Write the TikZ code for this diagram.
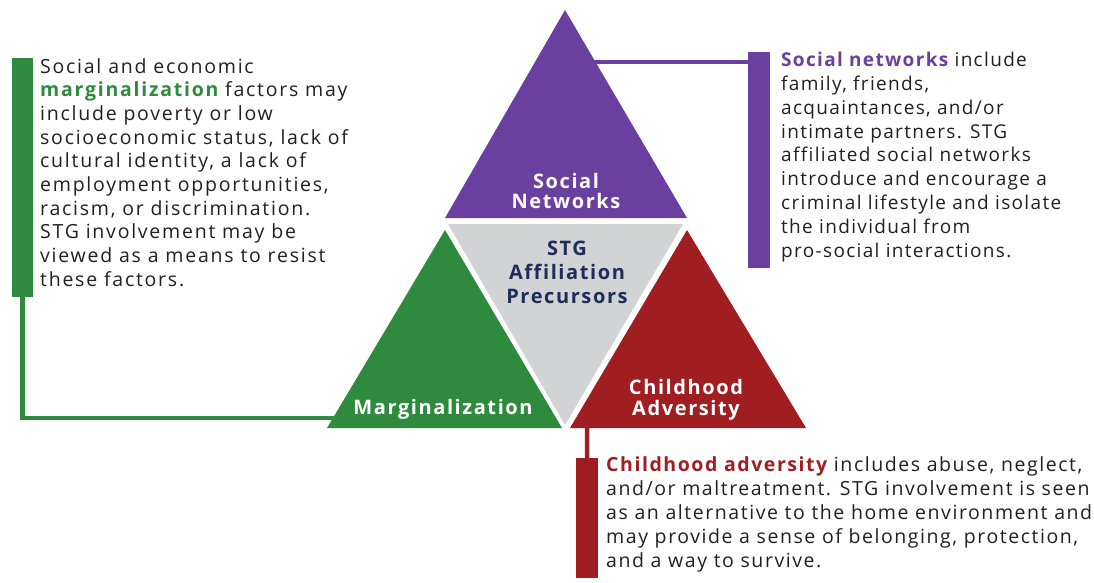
\documentclass[tikz,border=0pt]{standalone}
\usepackage{fontspec}
\setmainfont{Open Sans}[LetterSpace=7, Ligatures=CommonOff]
\definecolor{snpurple}{HTML}{6B3FA0}
\definecolor{mggreen}{HTML}{2E8B3E}
\definecolor{cared}{HTML}{A01E22}
\definecolor{stggray}{HTML}{D1D3D4}
\definecolor{stgnavy}{HTML}{1E2D5A}
\definecolor{bodytext}{HTML}{231F20}
\tikzset{
  conn/.style={line width=4.5pt},
  bar/.style={draw=none, inner sep=0pt, anchor=north west},
  desc/.style={anchor=north west, inner sep=0pt, align=left, text=bodytext,
    font=\fontsize{19}{23.8}\selectfont},
  trilabel/.style={align=center, inner sep=0pt, text=white,
    font=\bfseries\fontsize{20}{20.5}\selectfont\addfontfeatures{LetterSpace=8}},
}
\begin{document}
\begin{tikzpicture}[x=1pt,y=-1pt]
\useasboundingbox (0,0) rectangle (1094,582);
% triangle vertices
\coordinate (snA) at (565,10);  \coordinate (snL) at (445,218); \coordinate (snR) at (687,218);
\coordinate (grL) at (448,224); \coordinate (grR) at (683,224); \coordinate (grB) at (565,425);
\coordinate (mgA) at (445,230); \coordinate (mgL) at (327,428); \coordinate (mgR) at (562,428);
\coordinate (caA) at (687,230); \coordinate (caL) at (570,428); \coordinate (caR) at (806,428);
% connector ends on triangles
\coordinate (mgjoin) at (336,418);
\coordinate (snjoin) at (592,62);
\coordinate (cajoin) at (587,426);
% bars
\node[bar, fill=mggreen, minimum width=21, minimum height=239] (gbar) at (12,58) {};
\node[bar, fill=snpurple, minimum width=22, minimum height=216] (pbar) at (748,52) {};
\node[bar, fill=cared, minimum width=22, minimum height=120] (rbar) at (576,458) {};
% connectors
\draw[conn, mggreen] (gbar.south) |- (mgjoin);
\draw[conn, snpurple] (snjoin) -- (pbar.center |- snjoin);
\draw[conn, cared] (rbar.north) -- (cajoin);
% triangles
\fill[snpurple] (snA) -- (snL) -- (snR) -- cycle;
\fill[stggray] (grL) -- (grR) -- (grB) -- cycle;
\fill[mggreen] (mgA) -- (mgL) -- (mgR) -- cycle;
\fill[cared] (caA) -- (caL) -- (caR) -- cycle;
% triangle labels
\node[trilabel] (snlab) at (566,191) {Social\\Networks};
\node[trilabel, text=stgnavy, font=\bfseries\fontsize{20}{24}\selectfont\addfontfeatures{LetterSpace=8}] (stglab) at (567,272) {STG\\Affiliation\\Precursors};
\node[trilabel] (mglab) at (443,409) {Marginalization};
\node[trilabel] (calab) at (686,400) {Childhood\\Adversity};
% descriptions
\node[desc, font=\fontsize{19.5}{23.7}\selectfont\addfontfeatures{LetterSpace=9}] (gtext) at (40,58) {Social and economic\\
\textcolor{mggreen}{\bfseries marginalization} factors may\\
include poverty or low\\
socioeconomic status, lack of\\
cultural identity, a lack of\\
employment opportunities,\\
racism, or discrimination.\\
STG involvement may be\\
viewed as a means to resist\\
these factors.};
\node[desc] (ptext) at (781,52) {\textcolor{snpurple}{\bfseries Social networks} include\\
family, friends,\\
acquaintances, and/or\\
intimate partners. STG\\
affiliated social networks\\
introduce and encourage a\\
criminal lifestyle and isolate\\
the individual from\\
pro-social interactions.};
\node[desc, font=\fontsize{19.5}{24}\selectfont\addfontfeatures{LetterSpace=8}] (rtext) at (606,456) {\textcolor{cared}{\bfseries Childhood adversity} includes abuse, neglect,\\
and/or maltreatment. STG involvement is seen\\
as an alternative to the home environment and\\
may provide a sense of belonging, protection,\\
and a way to survive.};
\end{tikzpicture}
\end{document}
